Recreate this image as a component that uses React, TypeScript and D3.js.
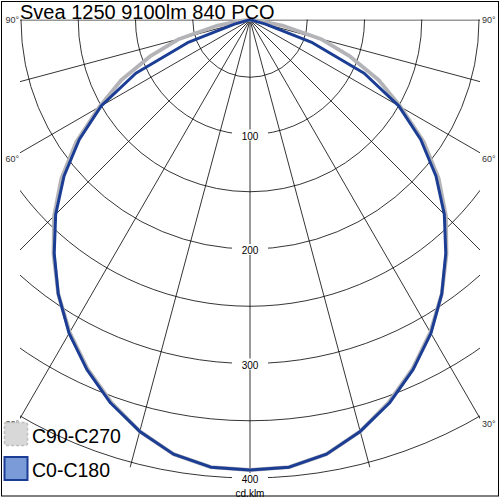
import React from 'react';
import * as d3 from 'd3';

// luminous intensity (cd/klm), gamma 0..90 in 5° steps
const title = 'Svea 1250 9100lm 840 PCO';
const gammas = [0, 5, 10, 15, 20, 25, 30, 35, 40, 45, 50, 55, 60, 65, 70, 75, 80, 85, 90];
const c0c180 = [393, 392, 385, 372, 356, 337, 316, 292, 266, 240, 212, 182, 150, 110, 58, 14, 3, 1, 0];
const c90c270 = [393, 392, 385, 372, 355, 336, 315, 292, 267, 242, 215, 185, 152, 124, 93, 64, 30, 7, 0];

const ringValues = [50, 100, 150, 200, 250, 300, 350, 400];
const ringLabels = [100, 200, 300, 400];
const radialAngles = [-90, -75, -60, -45, -30, -15, 0, 15, 30, 45, 60, 75, 90];
const angleLabels = [90, 60, 30];
const unitLabel = 'cd.klm';
const legendNames = ['C90-C270', 'C0-C180'];

const FONT = '"Liberation Sans", Arial, sans-serif';

const App: React.FC = () => {
    const cx = 250;
    const cy = 20;
    const xMin = 20;
    const xMax = 480;

    const r = d3.scaleLinear().domain([0, 400]).range([0, 458]);
    const rad = d3.scaleLinear().domain([0, 180]).range([0, Math.PI]);

    const radial = d3.lineRadial<[number, number]>()
        .angle(d => d[0])
        .radius(d => d[1]);

    // mirror one plane around nadir: left half then right half
    const curvePath = (vals: number[]) => {
        const left = gammas.map((g, i) => [Math.PI + rad(g), r(vals[i])] as [number, number]).reverse();
        const right = gammas.slice(1).map((g, i) => [Math.PI - rad(g), r(vals[i + 1])] as [number, number]);
        return radial([...left, ...right]) || '';
    };

    const labelY = (g: number) => cy + (xMax - cx) * Math.cos(rad(g)) / Math.sin(rad(g));

    return (
        <svg
            width={500}
            height={500}
            style={{ position: 'absolute', left: 0, top: 0, background: '#fff', fontFamily: FONT }}
        >
            <defs>
                <clipPath id="plot">
                    <rect x={xMin} y={cy - 0.5} width={xMax - xMin} height={480} />
                </clipPath>
            </defs>

            <g clipPath="url(#plot)">
                {ringValues.map(v => (
                    <circle key={v} cx={cx} cy={cy} r={r(v)} fill="none" stroke="#000" strokeWidth={0.8} />
                ))}
                <g transform={`translate(${cx},${cy})`}>
                    {radialAngles.map(a => (
                        <path
                            key={a}
                            d={radial([[Math.PI - rad(a), 0], [Math.PI - rad(a), r(400) + 5]]) || ''}
                            stroke="#000"
                            strokeWidth={0.8}
                        />
                    ))}
                </g>
            </g>

            {ringLabels.map(v => (
                <g key={v}>
                    <rect x={cx - 18} y={cy + r(v) - 5} width={36} height={11} fill="#fff" />
                    <text x={cx} y={cy + r(v) + 5} textAnchor="middle" fontSize={10} fill="#000">{v}</text>
                </g>
            ))}
            <text x={cx} y={496.5} textAnchor="middle" fontSize={10} fill="#000">{unitLabel}</text>

            {angleLabels.map(g => {
                const y = labelY(g) + (g === 90 ? 3 : 9);
                return (
                    <g key={g} fontSize={9} fill="#333">
                        <text x={xMin - 1} y={y} textAnchor="end">{`${g}°`}</text>
                        <text x={xMax + 2} y={y}>{`${g}°`}</text>
                    </g>
                );
            })}

            <g transform={`translate(${cx},${cy})`} fill="none" strokeLinejoin="round" strokeLinecap="round">
                <path d={curvePath(c90c270)} stroke="#b4b4b8" strokeWidth={3.8} />
                <path d={curvePath(c0c180)} stroke="#1b3d94" strokeWidth={3} />
            </g>

            <text x={xMin} y={18.5} fontSize={20} fill="#000">{title}</text>

            {/* legend */}
            <rect x={4.5} y={422.5} width={23} height={23} rx={2} fill="#d8d8d8" stroke="#bdbdbd" strokeWidth={1.5} strokeDasharray="3 2" />
            <text x={32} y={442.5} fontSize={19.5} fill="#000">{legendNames[0]}</text>
            <rect x={4.5} y={457} width={23} height={23} fill="#7b9bd8" stroke="#1b3d94" strokeWidth={2} />
            <text x={32} y={477} fontSize={19.5} fill="#000">{legendNames[1]}</text>

            <rect x={1.5} y={1.5} width={497} height={494.5} fill="none" stroke="#000" strokeWidth={1} />
        </svg>
    );
};

export default App;
